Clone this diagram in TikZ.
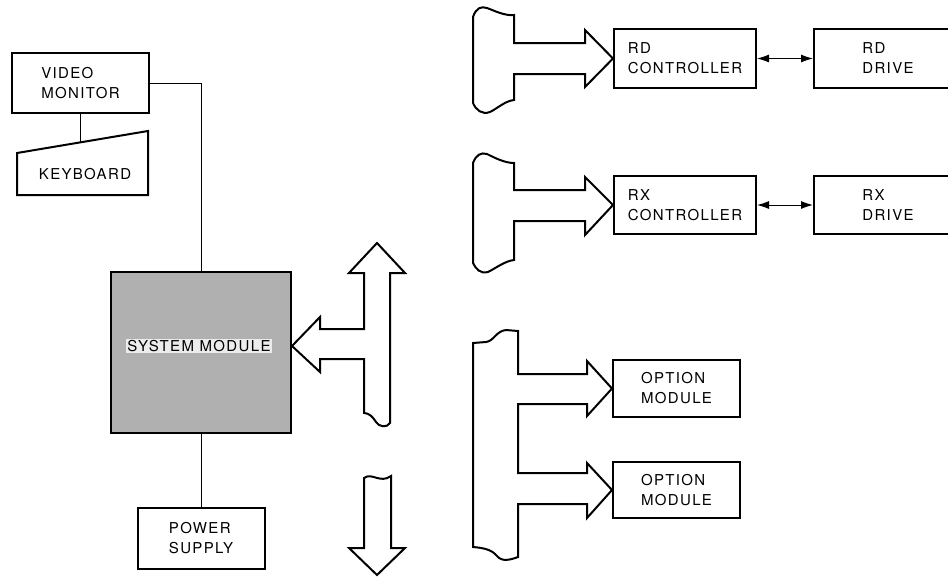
\documentclass[tikz,border=0pt]{standalone}
\usepackage{fontspec}
\setmainfont{TeX Gyre Heros}[LetterSpace=9]
\usetikzlibrary{arrows.meta,positioning}

\begin{document}
\begin{tikzpicture}[
      x=1pt, y=-1pt,
      >={Latex[length=12pt,width=8pt]},
      font=\fontsize{15}{20}\selectfont,
      unit/.style={draw, line width=2pt, align=left, inner sep=0pt},
      bus/.style={draw, line width=2pt, line join=miter, fill=white},
      wire/.style={line width=1pt}
    ]
    \clip (0,0) rectangle (948,579);

    \node[unit, minimum width=137pt, minimum height=60pt] (monitor) at (80.5,83) {VIDEO\\MONITOR};
    \node (keyboard) at (85,174) {KEYBOARD};
    \coordinate (kbtop) at (80.5,142);
    \draw[line width=2pt] (17,195) -- (17,153) -- (148,131) -- (148,195) -- cycle;
    \node[unit, fill=gray!62, minimum width=180pt, minimum height=161pt] (system) at (201,352.5) {};
    \node[fill=gray!15, inner sep=1pt] (syslabel) at (199,346) {SYSTEM MODULE};
    \node[unit, minimum width=127pt, minimum height=61pt] (power) at (201,538.5) {POWER\\SUPPLY};

    \node[unit, minimum width=142pt, minimum height=59pt] (rdctrl) at (685,58.5) {RD\\CONTROLLER};
    \node[unit, minimum width=148pt, minimum height=59pt, right=56pt of rdctrl] (rddrive) {RD\\DRIVE};
    \node[unit, minimum width=142pt, minimum height=58pt] (rxctrl) at (685,205) {RX\\CONTROLLER};
    \node[unit, minimum width=148pt, minimum height=58pt, right=56pt of rxctrl] (rxdrive) {RX\\DRIVE};
    \node[unit, minimum width=127pt, minimum height=57pt] (opt1) at (676.5,388.5) {OPTION\\MODULE};
    \node[unit, minimum width=127pt, minimum height=56pt] (opt2) at (676.5,490) {OPTION\\MODULE};

    \draw[wire] (monitor.east) -| (system.north);
    \draw[wire] (monitor.south) -- (kbtop);
    \draw[wire] (system.south) -- (power.north);
    \draw[wire,<->] (rdctrl) -- (rddrive);
    \draw[wire,<->] (rxctrl) -- (rxdrive);

    \draw[bus] (377,243) -- (405,273) -- (390,273) -- (390,423)
      .. controls (387,428) and (379,427) .. (376,422)
      .. controls (373,417) and (369,413) .. (364,413)
      -- (364,359) -- (320,359) -- (320,372) -- (system.east |- syslabel)
      -- (320,317) -- (320,329) -- (364,329) -- (364,273) -- (349,273) -- cycle;
    \draw[bus] (364,478) .. controls (372,472) and (380,484) .. (391,476)
      -- (391,548) -- (405,548) -- (377,575) -- (349,548) -- (364,548) -- cycle;

    \draw[bus] (473,17) .. controls (476,8) and (481,6) .. (487,8)
      .. controls (495,11) and (505,16) .. (514,15)
      -- (514,43) -- (585,43) -- (585,30) -- (rdctrl.west) -- (585,87) -- (585,74) -- (514,74) -- (514,100)
      .. controls (505,101) and (498,108) .. (490,112)
      .. controls (482,115) and (476,110) .. (473,103) -- cycle;
    \draw[bus] (473,163) .. controls (476,155) and (481,152) .. (487,154)
      .. controls (495,158) and (505,163) .. (514,163)
      -- (514,190) -- (585,190) -- (585,177) -- (rxctrl.west) -- (585,235) -- (585,221) -- (514,221) -- (514,260)
      .. controls (505,261) and (496,268) .. (488,272)
      .. controls (480,274) and (476,269) .. (473,263) -- cycle;
    \draw[bus] (473,343) -- (486,342) .. controls (494,341) and (496,331) .. (506,330) -- (518,331)
      -- (518,374) -- (587,374) -- (587,361) -- (opt1.west) -- (587,416) -- (587,404) -- (518,404)
      -- (518,473) -- (587,473) -- (587,463) -- (opt2.west) -- (587,518) -- (587,504) -- (518,504)
      -- (518,557) .. controls (510,560) and (502,562) .. (497,556)
      .. controls (492,550) and (485,548) .. (473,547) -- cycle;
  \end{tikzpicture}
\end{document}
